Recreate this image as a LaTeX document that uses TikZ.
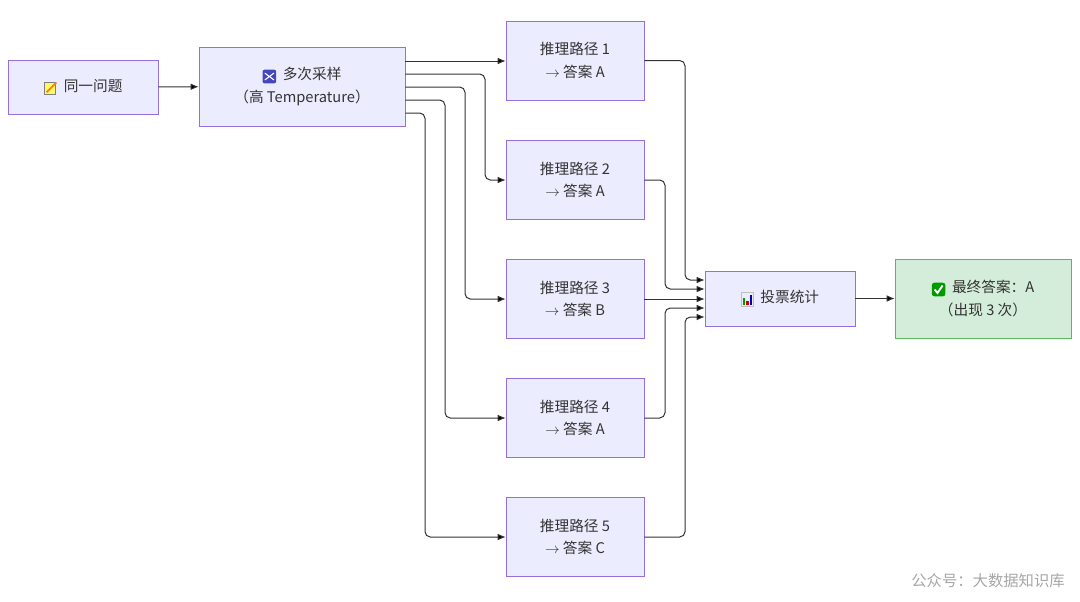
\documentclass[tikz,border=0pt]{standalone}
\usepackage{fontspec}
\setmainfont{Noto Sans CJK SC}
\usetikzlibrary{positioning,arrows.meta}
\definecolor{boxfill}{HTML}{ECECFF}
\definecolor{boxline}{HTML}{9370DB}
\definecolor{okfill}{HTML}{D4EDDA}
\definecolor{okline}{HTML}{5CB85C}
\definecolor{wire}{HTML}{333333}
\tikzset{icon/.style={x=1.5cm,y=1.5cm,baseline=-1.5pt}}
\newcommand{\iconmemo}{\tikz[icon]{\fill[yellow!60!white,draw=gray] (0,-0.09) rectangle (0.2,0.13);\draw[orange,line width=1.4pt] (0.05,-0.05) -- (0.22,0.12);}}
\newcommand{\iconshuffle}{\tikz[icon]{\fill[blue!45!gray,rounded corners=1.5pt] (0,-0.1) rectangle (0.24,0.14);\draw[white,line width=0.8pt] (0.04,-0.04) -- (0.2,0.08) (0.04,0.08) -- (0.2,-0.04);}}
\newcommand{\iconchart}{\tikz[icon]{\draw[gray!50] (0,-0.1) rectangle (0.22,0.14);\fill[green!60!black] (0.03,-0.08) rectangle (0.07,0.04);\fill[red!80!black] (0.09,-0.08) rectangle (0.13,0.0);\fill[blue!70!black] (0.15,-0.08) rectangle (0.19,0.1);}}
\newcommand{\iconcheck}{\tikz[icon]{\fill[green!60!black,rounded corners=2pt] (0,-0.1) rectangle (0.24,0.14);\draw[white,line width=1.4pt] (0.05,0.02) -- (0.1,-0.04) -- (0.19,0.09);}}
\begin{document}
\begin{tikzpicture}[x=0.75pt,y=-0.75pt,
    stage/.style={draw=boxline,fill=boxfill,text=wire,align=center,font=\fontsize{11}{17}\selectfont,inner sep=0pt},
    final/.style={stage,draw=okline,fill=okfill},
    link/.style={draw=wire,line width=0.75pt,-{Latex[length=6pt,width=5pt]},rounded corners=4pt}
    ]
    \useasboundingbox (0,0) rectangle (1080,601);

    \node (q) [stage,minimum width=112.5pt,minimum height=40.5pt] at (83,87) {\iconmemo\ \ 同一问题};
    \node (s) [stage,minimum width=154.5pt,minimum height=59.25pt] at (302,86.5) {\iconshuffle\ \ 多次采样\\（高 Temperature）};

    \foreach \i/\y/\a in {1/60.5/A,2/180/A,3/299/B,4/418/A,5/537/C}
      \node (p\i) [stage,minimum width=103.5pt,minimum height=59.25pt] at (575,\y) {推理路径 \i\\$\rightarrow$ 答案 \a};

    \node (v) [stage,minimum width=112.5pt,minimum height=41.25pt] at (780,298.5) {\iconchart\ \ 投票统计};
    \node (f) [final,minimum width=132pt,minimum height=59.25pt] at (983,298.5) {\iconcheck\ \ 最终答案：A\\（出现 3 次）};

    \node (wm) [text=gray!70,font=\fontsize{11.5}{13}\selectfont] at (988,581) {公众号：大数据知识库};

    \draw[link] (q) -- (s);
    \draw[link] (s.east |- 0,61) -- (p1.west |- 0,61);
    \foreach \i/\y/\x in {2/74/485,3/87/465,4/100/445,5/113/425}
      \draw[link] (s.east |- 0,\y) -| (\x,0 |- p\i.west) -- (p\i.west);

    \foreach \i/\x/\e in {1/685/280,2/665/289,4/665/308,5/685/317}
      \draw[link] (p\i.east) -| (\x,\e) -- (v.west |- 0,\e);
    \draw[link] (p3.east) -- (v.west |- p3.east);
    \draw[link] (v) -- (f);
\end{tikzpicture}
\end{document}
